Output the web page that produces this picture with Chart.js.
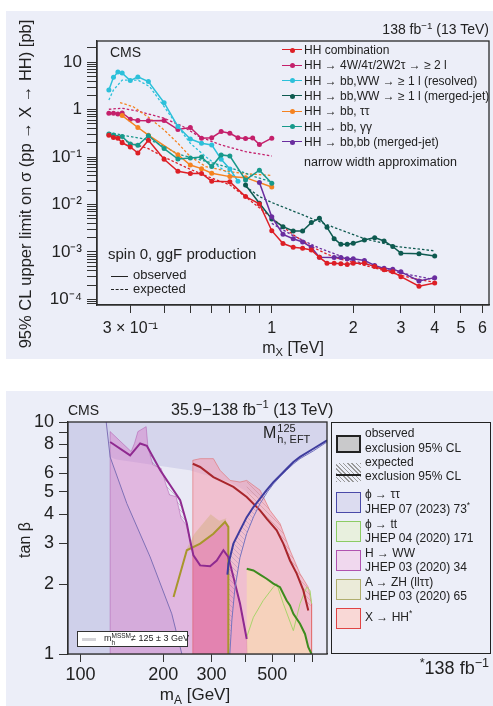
<!DOCTYPE html>
<html lang="en">
<head>
<meta charset="UTF-8" />
<meta name="viewport" content="width=device-width, initial-scale=1.0"/>
<title>X → HH limits and MSSM exclusions</title>
<script src="https://cdn.jsdelivr.net/npm/chart.js"></script>
<style>
  body { margin:0; width:493px; height:706px; position:relative; overflow:hidden; background:#fff;
         font-family:'Liberation Sans', Arial, sans-serif; color:#222; }
  .panel { position:absolute; left:6px; width:487px; background:#eceef8; }
  canvas { position:absolute; left:0; top:0; }
  .t { position:absolute; white-space:nowrap; line-height:1.15; transform:translateY(-50%); }
  .t.rot { transform:translate(-50%,-50%) rotate(-90deg); }
  .sp { font-size:70%; position:relative; top:-0.55em; }
  .sb { font-size:70%; position:relative; top:0.3em; }
  .leg { position:absolute; left:282px; font-size:12px; line-height:14px; transform:translateY(-50%); white-space:nowrap; }
  .leg i { display:inline-block; width:20px; height:14px; position:relative; vertical-align:top; margin-right:2px; }
  .leg i::before { content:''; position:absolute; left:0; right:0; top:6.3px; border-top:1.5px solid var(--c); }
  .leg i::after { content:''; position:absolute; left:7.5px; top:4.5px; width:5px; height:5px; border-radius:50%; background:var(--c); }
  .box { position:absolute; box-sizing:border-box; }
  .sw { position:absolute; left:336px; width:25px; box-sizing:border-box; }
  .lt { position:absolute; left:365px; font-size:12px; white-space:nowrap; transform:translateY(-50%); line-height:1.1; }
  .stack { display:inline-flex; flex-direction:column; vertical-align:middle; line-height:1; }
</style>
</head>
<body>

<div class="panel" style="top:11px;height:348px"><canvas id="limits" width="487" height="348"></canvas></div>
<div class="panel" style="top:391px;height:315px"><canvas id="mssm" width="487" height="315"></canvas></div>

<!-- top panel texts -->
<div class="t" style="right:4px;top:29px;font-size:14px">138 fb<span class="sp">−1</span> (13 TeV)</div>
<div class="t" style="left:110px;top:52px;font-size:14px">CMS</div>
<div class="t rot" style="left:25px;top:184px;font-size:16.5px">95% CL upper limit on σ (pp → X → HH) [pb]</div>
<div class="t" style="left:293px;top:348px;font-size:16px;transform:translate(-50%,-50%)">m<span class="sb">X</span> [TeV]</div>
<div class="leg" style="top:50px"><i style="--c:#dd1f26"></i>HH combination</div>
<div class="leg" style="top:65.3px"><i style="--c:#c4206b"></i>HH → 4W/4τ/2W2τ → ≥ 2 l</div>
<div class="leg" style="top:80.7px"><i style="--c:#2cc0da"></i>HH → bb,WW → ≥ 1 l (resolved)</div>
<div class="leg" style="top:96px"><i style="--c:#0e5a50"></i>HH → bb,WW → ≥ 1 l (merged-jet)</div>
<div class="leg" style="top:111.3px"><i style="--c:#f58220"></i>HH → bb, ττ</div>
<div class="leg" style="top:126.7px"><i style="--c:#17998b"></i>HH → bb, γγ</div>
<div class="leg" style="top:142px"><i style="--c:#6a2d9f"></i>HH → bb,bb (merged-jet)</div>
<div class="t" style="left:304px;top:161.7px;font-size:12.5px">narrow width approximation</div>
<div class="t" style="left:108px;top:254px;font-size:15px">spin 0, ggF production</div>
<div class="box" style="left:111px;top:275.5px;width:17px;border-top:1.3px solid #222"></div>
<div class="t" style="left:133px;top:275px;font-size:13px">observed</div>
<div class="box" style="left:111px;top:289px;width:17px;border-top:1.3px dashed #222"></div>
<div class="t" style="left:133px;top:289px;font-size:13px">expected</div>

<!-- bottom panel texts -->
<div class="t" style="left:68px;top:409.5px;font-size:14px">CMS</div>
<div class="t" style="left:171px;top:409.5px;font-size:16px">35.9−138 fb<span class="sp">−1</span> (13 TeV)</div>
<div class="t" style="left:263px;top:434px;font-size:16px">M<span class="stack" style="font-size:11px;margin-left:1px"><span>125</span><span>h, EFT</span></span></div>
<div class="t rot" style="left:25px;top:540px;font-size:16px">tan β</div>
<div class="t" style="left:195px;top:695px;font-size:17px;transform:translate(-50%,-50%)">m<span class="sb">A</span> [GeV]</div>
<div class="t" style="right:4px;top:668px;font-size:18px"><span class="sp">*</span>138 fb<span class="sp">−1</span></div>
<div class="box" style="left:77px;top:631px;width:111px;height:16px;background:#fff;border:1px solid #333">
  <div class="box" style="left:4px;top:6px;width:14px;height:3px;background:#d4d4d8"></div>
  <div class="t" style="left:26px;top:7px;font-size:9px">m<span class="stack" style="font-size:6.5px"><span>MSSM</span><span>h</span></span>≠ 125 ± 3 GeV</div>
</div>

<!-- bottom legend -->
<div class="box" style="left:331px;top:421.7px;width:160px;height:232.3px;border:1.3px solid #222"></div>
<div class="sw" style="top:435px;height:18.3px;background:#c9c9cb;border:2px solid #222"></div>
<div class="lt" style="top:434px">observed</div>
<div class="lt" style="top:448.7px">exclusion 95% CL</div>
<div class="sw" style="top:463px;height:19px;background:repeating-linear-gradient(45deg,#999 0 1px,transparent 1px 3px)"></div>
<div class="box" style="left:336px;top:474px;width:25px;border-top:2px solid #222"></div>
<div class="lt" style="top:462.7px">expected</div>
<div class="lt" style="top:477px">exclusion 95% CL</div>
<div class="sw" style="top:491.7px;height:21px;background:#dcdcf0;border:1.3px solid #4a4aa8"></div>
<div class="lt" style="top:495.3px">ϕ → ττ</div>
<div class="lt" style="top:509.7px">JHEP 07 (2023) 73<span class="sp">*</span></div>
<div class="sw" style="top:521px;height:21px;background:#e8f0de;border:1.3px solid #8ccc64"></div>
<div class="lt" style="top:524.7px">ϕ → tt</div>
<div class="lt" style="top:539px">JHEP 04 (2020) 171</div>
<div class="sw" style="top:550px;height:21px;background:#f0d8ee;border:1.3px solid #b052b0"></div>
<div class="lt" style="top:553.7px">H → WW</div>
<div class="lt" style="top:568px">JHEP 03 (2020) 34</div>
<div class="sw" style="top:579px;height:21px;background:#ebebd9;border:1.3px solid #b0ae6e"></div>
<div class="lt" style="top:582.7px">A → ZH (llττ)</div>
<div class="lt" style="top:597px">JHEP 03 (2020) 65</div>
<div class="sw" style="top:608px;height:21px;background:#f9d8d6;border:1.3px solid #e04444"></div>
<div class="lt" style="top:618px">X → HH<span class="sp">*</span></div>

<script>
// ---------- top: 95% CL limits, m_X in TeV, sigma in pb
const combM   = [0.25,0.26,0.27,0.28,0.30,0.32,0.35,0.40,0.45,0.50,0.55,0.60,0.70,0.80,0.90,1.0,1.1,1.2,1.3,1.4,1.5,1.6,1.7,1.8,1.9,2.0,2.2,2.4,2.6,2.8,3.0,3.5,4.0];
const combObs = [0.29,0.26,0.25,0.20,0.163,0.122,0.226,0.090,0.050,0.045,0.045,0.031,0.030,0.0147,0.0103,0.0028,0.0015,0.00126,0.0012,0.0011,0.00077,0.00058,0.00058,0.00056,0.00054,0.00058,0.00058,0.00049,0.00042,0.00038,0.00030,0.00019,0.00022];
const combExpM = [0.25,0.30,0.35,0.40,0.50,0.60,0.70,0.80,0.90,1.0,1.1,1.2,1.4,1.6,1.8,2.0,2.4,3.0,3.5,4.0];
const combExp  = [0.28,0.20,0.15,0.10,0.055,0.036,0.026,0.0145,0.0085,0.0052,0.0034,0.0023,0.0013,0.0009,0.0007,0.0006,0.00046,0.00032,0.00026,0.00023];

const multiM   = [0.25,0.26,0.27,0.28,0.30,0.32,0.35,0.40,0.45,0.50,0.55,0.60,0.65,0.70,0.75,0.80,0.85,0.90,1.0];
const multiObs = [0.84,0.84,0.81,0.85,0.63,0.59,0.58,0.59,0.38,0.42,0.25,0.256,0.344,0.318,0.256,0.245,0.253,0.183,0.25];
const multiExpM = [0.25,0.28,0.32,0.40,0.47,0.54,0.65,0.80,1.0];
const multiExp  = [1.02,1.07,0.93,0.66,0.44,0.27,0.18,0.13,0.105];

const resM   = [0.25,0.26,0.27,0.28,0.30,0.32,0.35,0.40,0.45,0.50,0.55,0.60,0.65,0.70,0.75];
const resObs = [2.6,4.8,6.2,5.9,4.1,4.9,3.9,1.4,0.44,0.24,0.195,0.18,0.09,0.056,0.031];
const resExpM = [0.25,0.26,0.28,0.32,0.354,0.40,0.45,0.50,0.57,0.66,0.74];
const resExp  = [1.6,2.6,4.2,4.2,3.05,1.16,0.44,0.195,0.102,0.054,0.036];

const mergM   = [0.8,0.9,1.0,1.1,1.2,1.3,1.4,1.5,1.6,1.7,1.8,1.9,2.0,2.2,2.4,2.6,2.8,3.0,3.5,4.0];
const mergObs = [0.0258,0.0106,0.00495,0.00341,0.00277,0.00277,0.00415,0.00512,0.0033,0.0019,0.00145,0.00145,0.00152,0.00179,0.0020,0.0017,0.0013,0.00094,0.00091,0.00082];
const mergExpM = [0.8,0.9,1.0,1.26,1.67,2.2,2.9,4.0];
const mergExp  = [0.024,0.0147,0.011,0.0065,0.0034,0.0019,0.0013,0.00105];

const tautauM   = [0.28,0.32,0.35,0.45,0.50,0.55,0.60,0.70,0.80,1.0];
const tautauObs = [0.75,0.42,0.29,0.112,0.068,0.057,0.0455,0.0387,0.0368,0.0234];
const tautauExpM = [0.275,0.307,0.354,0.40,0.45,0.50,0.57,0.70,0.825,1.0];
const tautauExp  = [1.40,1.16,0.66,0.373,0.195,0.102,0.063,0.049,0.044,0.041];

const ggM   = [0.25,0.26,0.28,0.30,0.32,0.35,0.40,0.45,0.50,0.55,0.60,0.65,0.70,0.80,0.90,1.0];
const ggObs = [0.307,0.292,0.27,0.189,0.177,0.283,0.151,0.091,0.096,0.10,0.063,0.111,0.105,0.033,0.053,0.028];
const ggExpM = [0.25,0.28,0.354,0.40,0.45,0.526,0.62,0.74,0.87,1.0];
const ggExp  = [0.33,0.29,0.23,0.17,0.115,0.092,0.072,0.054,0.038,0.030];

const bbbbM   = [0.9,1.0,1.1,1.2,1.3,1.4,1.5,1.7,1.8,1.9,2.0,2.2,2.4,2.6,2.8,3.0,3.5,4.0];
const bbbbObs = [0.029,0.0055,0.00235,0.0019,0.00162,0.00125,0.00077,0.00076,0.00076,0.00072,0.00072,0.00066,0.00052,0.00045,0.00043,0.00038,0.000244,0.000287];
const bbbbExpM = [1.0,1.2,1.5,2.0,2.5,3.0,4.0];
const bbbbExp  = [0.004,0.0022,0.0012,0.00065,0.00047,0.00036,0.00026];

const topXTicks = [0.3,0.4,0.5,0.6,0.7,0.8,0.9,1,2,3,4,5,6];
const topXLabels = {0.3:'3 × 10⁻¹', 1:'1', 2:'2', 3:'3', 4:'4', 5:'5', 6:'6'};
const topYMajor = [0.0001,0.001,0.01,0.1,1,10];
const topYLabels = ['10⁻⁴','10⁻³','10⁻²','10⁻¹','1','10'];

// ---------- bottom: MSSM M_h,EFT^125, m_A in GeV vs tan beta
const mhStripM = [90,128,128,90];
const mhStripT = [1,1,10,10];
// region excluded by phi -> tautau (everything outside the low tan beta pocket)
const ttauExclM = [90,90,791,791,705,631,597,564,533,504,477,451,350,250,135,128,147.5,179,215,234];
const ttauExclT = [1,10,10,8.34,7.67,7.07,6.72,6.29,5.89,5.51,5.08,4.67,5.5,6.2,6.9,7.06,4.45,2.62,1.49,1];
const ttauObsM = [343,346,360.6,381.2,403.3,426.6,451,476.6,504.3,533.3,563.7,596.5,630.7,705,791];
const ttauObsT = [2.2,2.45,2.99,3.41,3.89,4.3,4.67,5.08,5.51,5.89,6.29,6.72,7.07,7.67,8.34];
const ttauExpM = [350,356,365,381,403,427,451,480,504,533,564,597,631,705,791];
const ttauExpT = [1.0,1.4,1.9,2.6,3.3,3.9,4.45,5.0,5.4,5.8,6.2,6.6,6.95,7.5,8.2];
const ttauLowM = [124,128.2,147.5,179.3,215,234];
const ttauLowT = [10,7.06,4.45,2.62,1.49,1];

const wwFillM = [128.2,128.2,152.9,157.3,161.8,173.4,176,183.5,196.7,205,211,223,232.5,242.6,250.7,257.8,272.8,296.6,313.6,331.6,345.6,360.6,381.2,403.3,405];
const wwFillT = [1,9.09,7.46,8.1,9.09,9.55,7.83,6.53,6.31,5.35,4.85,4.77,3.85,3.6,3.09,2.66,2.41,2.39,2.53,2.8,2.62,2.15,1.65,1.16,1];
const wwObsM = [128.2,151.6,164.9,174.4,195.2,230.7,243.9,250.7,257.8,272.8,296.6,313.6,331.6,345.6,360.6,381.2,403.3];
const wwObsT = [8.2,7.18,8.08,7.9,6.19,4.6,3.65,3.09,2.66,2.41,2.39,2.53,2.8,2.62,2.15,1.65,1.16];
const wwBandM = [174.4,195.2,230.7,243.9,242.6,232.5,223,211,205,196.7,183.5,176];
const wwBandT = [7.9,6.19,4.6,3.65,3.6,3.85,4.77,4.85,5.35,6.31,6.53,7.83];

const hhFillM = [256.5,256.5,272.8,304.9,322.5,351,381.2,403.3,451,490,533.3,579.8,630.7,676,695,695];
const hhFillT = [1,6.84,6.95,6.95,6.19,5.6,5.51,5.6,5.08,4.16,3.65,2.8,2.22,1.94,1.65,1];
const hhObsM = [256.5,272.8,304.9,322.5,360.6,403.3,451,476.6,518.6,548.3,579.8,613.4,648.6,676];
const hhObsT = [6.61,6.4,5.79,5.6,5.25,4.75,4.16,3.83,3.41,2.99,2.53,2.22,1.88,1.54];
const hhBandM = [403.3,451,476.6,518.6,548.3,579.8,613.4,648.6,676,695,676,630.7,579.8,533.3,490,451,403.3];
const hhBandT = [4.75,4.16,3.83,3.41,2.99,2.53,2.22,1.88,1.54,1.65,1.94,2.22,2.8,3.65,4.16,5.08,5.6];

const azhM = [218.2,243.9,272.8,304.9,336.3,345.6,345.6];
const azhT = [1.76,2.8,2.99,3.3,3.71,3.53,1];
const azhFillM = [256.5,256.5,272.8,304.9,336.3,345.6,345.6];
const azhFillT = [1,2.88,2.99,3.3,3.71,3.53,1];
const azhExpM = [243.9,260,298,320,340];
const azhExpT = [2.85,3.3,4.0,3.75,3.85];

const topttM = [403.3,426.6,451,476.6,504.3,533.3,563.7,579.8,596.5,630.7,657.7,676,695];
const topttT = [2.33,2.29,2.2,2.11,2.01,1.94,1.70,1.62,1.49,1.35,1.22,1.07,1];
const topttExpM = [403,426.6,463,504,518.6,548,596.5,630.7,667,686,695];
const topttExpT = [1.18,1.44,1.70,1.94,2.01,1.65,1.26,1.65,1.94,1.88,1.65];

const mTicks = [100,200,300,400,500,600,700];
const mLabels = [100,200,300,500];
const tbTicks = [1,2,3,4,5,6,7,8,9,10];
const tbLabels = [1,2,3,4,5,6,8,10];

Chart.defaults.font.family = "'Liberation Sans', Arial, sans-serif";
Chart.defaults.color = '#222';

function pts(xs, ys) { return xs.map((x, i) => ({x: x, y: ys[i]})); }

const framePlugin = {
  id: 'frame',
  beforeDatasetsDraw(chart, args, opts) {
    if (!opts.bg) return;
    const a = chart.chartArea, ctx = chart.ctx;
    ctx.save(); ctx.fillStyle = opts.bg;
    ctx.fillRect(a.left, a.top, a.right - a.left, a.bottom - a.top);
    ctx.restore();
  },
  afterDraw(chart) {
    const a = chart.chartArea, ctx = chart.ctx;
    ctx.save(); ctx.strokeStyle = '#2a2a2a'; ctx.lineWidth = 1.3;
    ctx.strokeRect(a.left, a.top, a.right - a.left, a.bottom - a.top);
    ctx.restore();
  }
};

// ---------- top chart
function obsSet(xs, ys, c) {
  return {data: pts(xs, ys), showLine: true, fill: false, borderColor: c, backgroundColor: c,
          borderWidth: 1.5, pointRadius: 2.5, pointBorderWidth: 0};
}
function expSet(xs, ys, c) {
  return {data: pts(xs, ys), showLine: true, fill: false, borderColor: c, borderWidth: 1.3,
          borderDash: [2.5, 2], pointRadius: 0};
}

const topYTicks = [];
for (let e = -5; e <= 1; e++) {
  for (let k = 1; k <= 9; k++) {
    const v = Number((k * Math.pow(10, e)).toPrecision(3));
    if (v >= 7.6e-5 && v <= 28) topYTicks.push(v);
  }
}

new Chart(document.getElementById('limits'), {
  type: 'scatter',
  data: {
    datasets: [
      obsSet(combM, combObs, '#dd1f26'),
      obsSet(bbbbM, bbbbObs, '#6a2d9f'),
      obsSet(mergM, mergObs, '#0e5a50'),
      obsSet(ggM, ggObs, '#17998b'),
      obsSet(tautauM, tautauObs, '#f58220'),
      obsSet(resM, resObs, '#2cc0da'),
      obsSet(multiM, multiObs, '#c4206b'),
      expSet(combExpM, combExp, '#dd1f26'),
      expSet(bbbbExpM, bbbbExp, '#6a2d9f'),
      expSet(mergExpM, mergExp, '#0e5a50'),
      expSet(ggExpM, ggExp, '#17998b'),
      expSet(tautauExpM, tautauExp, '#f58220'),
      expSet(resExpM, resExp, '#2cc0da'),
      expSet(multiExpM, multiExp, '#c4206b')
    ]
  },
  options: {
    responsive: false,
    animation: false,
    layout: { padding: { top: 30, right: 2, left: 0, bottom: 0 } },
    plugins: { legend: { display: false }, tooltip: { enabled: false } },
    scales: {
      x: {
        type: 'logarithmic', min: 0.226, max: 6.35,
        afterBuildTicks: s => { s.ticks = topXTicks.map(v => ({value: v})); },
        afterFit: s => { s.height = 54; },
        ticks: { autoSkip: false, maxRotation: 0, padding: 6, font: { size: 16 },
                 callback: v => topXLabels[v] || '' },
        grid: { drawOnChartArea: false, tickLength: 8, color: '#333' },
        border: { color: '#333', width: 1.3 }
      },
      y: {
        type: 'logarithmic', min: 7.6e-5, max: 28,
        afterBuildTicks: s => { s.ticks = topYTicks.map(v => ({value: v})); },
        afterFit: s => { s.width = 91; },
        ticks: { autoSkip: false, padding: 5, font: { size: 17 },
                 callback: v => { const i = topYMajor.indexOf(v); return i >= 0 ? topYLabels[i] : ''; } },
        grid: { drawOnChartArea: false, tickLength: 10, color: '#333' },
        border: { color: '#333', width: 1.3 }
      }
    }
  },
  plugins: [framePlugin]
});

// ---------- bottom chart
function hatch(color) {
  const c = document.createElement('canvas');
  c.width = 5; c.height = 5;
  const g = c.getContext('2d');
  g.strokeStyle = color; g.lineWidth = 0.7;
  g.beginPath();
  for (const k of [-5, 0, 5]) { g.moveTo(k, 0); g.lineTo(k + 5, 5); }
  g.stroke();
  return g.createPattern(c, 'repeat');
}
function region(xs, ys, fillColor, edge, edgeW) {
  return {data: pts(xs, ys), showLine: true, fill: 'shape', backgroundColor: fillColor,
          borderColor: edge || 'rgba(0,0,0,0)', borderWidth: edgeW || 0, pointRadius: 0};
}
function curve(xs, ys, c, w) {
  return {data: pts(xs, ys), showLine: true, fill: false, borderColor: c, borderWidth: w, pointRadius: 0};
}

new Chart(document.getElementById('mssm'), {
  type: 'scatter',
  data: {
    datasets: [
      // lines on top
      curve(ttauObsM, ttauObsT, '#3e3c9e', 2),
      curve(ttauExpM, ttauExpT, '#7674c0', 1),
      curve(ttauLowM, ttauLowT, '#7f70b6', 1),
      curve(hhObsM, hhObsT, '#a8262c', 2),
      curve(wwObsM, wwObsT, '#8f2a90', 2),
      curve(azhM, azhT, '#a8962c', 2),
      curve(topttM, topttT, '#3d8b1e', 2),
      curve(topttExpM, topttExpT, '#a9d46c', 1),
      // expected bands
      region(ttauObsM.concat(ttauExpM.slice().reverse()), ttauObsT.concat(ttauExpT.slice().reverse()), hatch('rgba(110,100,170,0.4)')),
      region(wwBandM, wwBandT, hatch('rgba(140,100,140,0.5)')),
      region(hhBandM, hhBandT, hatch('rgba(170,100,100,0.4)')),
      region(azhM.slice(0, 5).concat(azhExpM.slice().reverse()), azhT.slice(0, 5).concat(azhExpT.slice().reverse()), 'rgba(200,170,100,0.35)'),
      // excluded regions
      region(topttM.concat([403.3]), topttT.concat([1]), 'rgba(255,240,160,0.4)'),
      region(azhFillM, azhFillT, 'rgba(205,50,130,0.3)'),
      region(hhFillM, hhFillT, 'rgba(248,150,170,0.5)', 'rgba(225,100,100,0.7)', 0.8),
      region(wwFillM, wwFillT, 'rgba(215,115,195,0.42)', 'rgba(170,80,170,0.6)', 0.8),
      region(ttauExclM, ttauExclT, 'rgba(140,140,205,0.22)'),
      region(mhStripM, mhStripT, 'rgba(170,180,215,0.1)')
    ]
  },
  options: {
    responsive: false,
    animation: false,
    layout: { padding: { top: 31, right: 166, left: 0, bottom: 0 } },
    plugins: { legend: { display: false }, tooltip: { enabled: false }, frame: { bg: '#e9e9f5' } },
    scales: {
      x: {
        type: 'logarithmic', min: 90, max: 791,
        afterBuildTicks: s => { s.ticks = mTicks.map(v => ({value: v})); },
        afterFit: s => { s.height = 52; },
        ticks: { autoSkip: false, maxRotation: 0, padding: 2, font: { size: 18 },
                 callback: v => mLabels.includes(v) ? String(v) : '' },
        grid: { drawOnChartArea: false, tickLength: 8, color: '#333' },
        border: { color: '#333', width: 1.3 }
      },
      y: {
        type: 'logarithmic', min: 1, max: 10,
        afterBuildTicks: s => { s.ticks = tbTicks.map(v => ({value: v})); },
        afterFit: s => { s.width = 62; },
        ticks: { autoSkip: false, padding: 5, font: { size: 18 },
                 callback: v => tbLabels.includes(v) ? String(v) : '' },
        grid: { drawOnChartArea: false, tickLength: 9, color: '#333' },
        border: { color: '#333', width: 1.3 }
      }
    }
  },
  plugins: [framePlugin]
});
</script>
</body>
</html>
